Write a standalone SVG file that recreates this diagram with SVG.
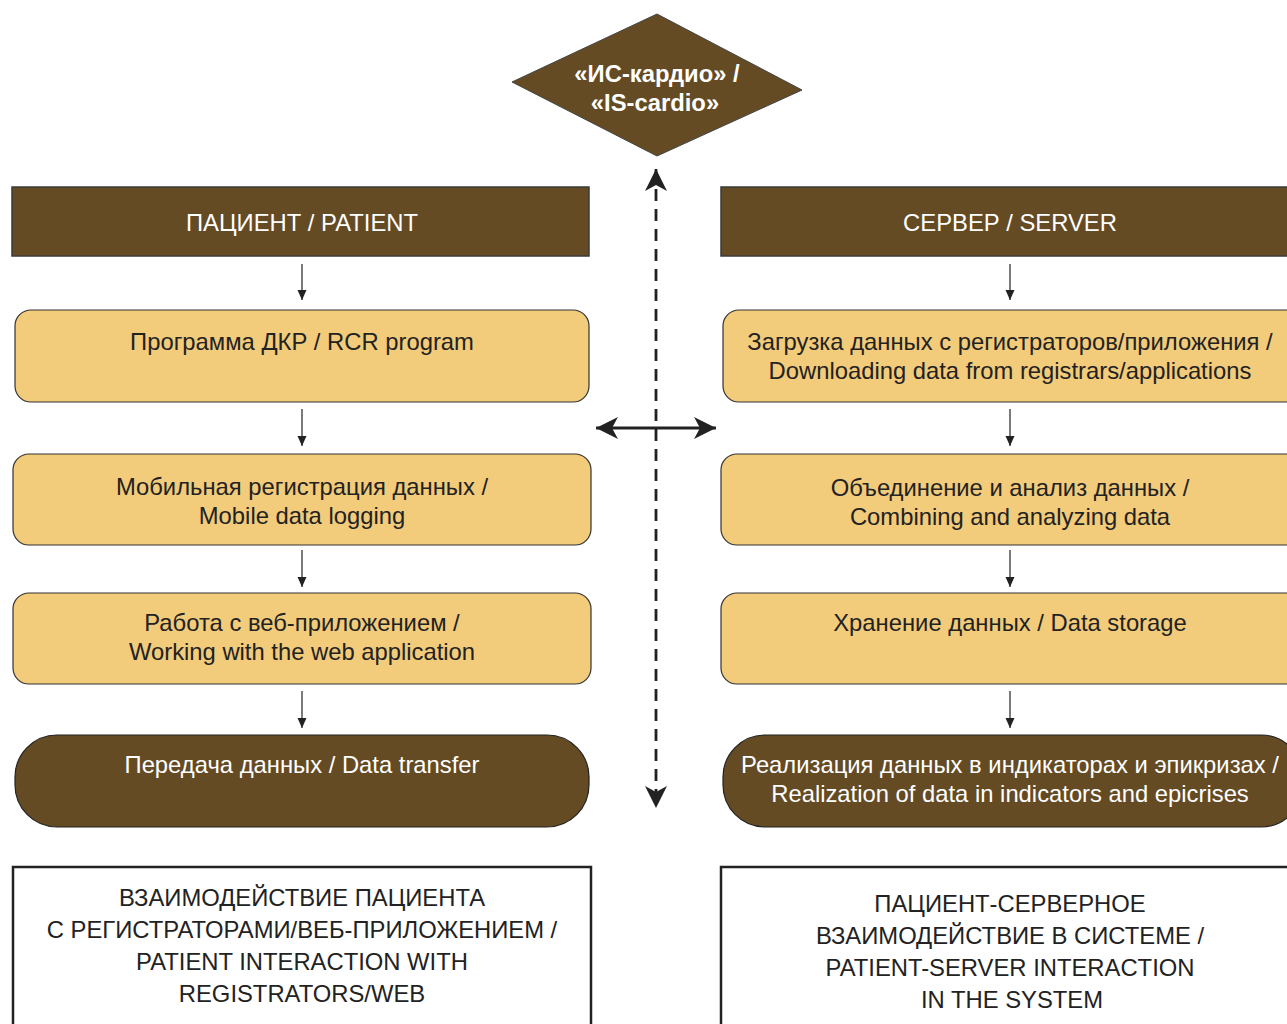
<svg xmlns="http://www.w3.org/2000/svg" width="1287" height="1024" viewBox="0 0 1287 1024">
<style>
  text { font-family: "Liberation Sans", Arial, sans-serif; font-size: 23.8px; text-anchor: middle; }
  .hdr { fill: #644B24; stroke: #3a3a3a; stroke-width: 1.5; }
  .yel { fill: #F2CB7B; stroke: #333; stroke-width: 1.2; }
  .brn { fill: #644B24; stroke: #222; stroke-width: 1.2; }
  .box { fill: #fff; stroke: #222; stroke-width: 2.5; }
  .wt { fill: #fff; }
  .bk { fill: #222; }
  .flow { stroke: #333; stroke-width: 1.3; fill: none; marker-end: url(#sm); }
  .big { stroke: #222; stroke-width: 2.8; fill: none; }
</style>
<defs>
  <marker id="sm" markerUnits="userSpaceOnUse" markerWidth="12" markerHeight="12" viewBox="-10 -6 12 12" refX="0" refY="0" orient="auto">
    <path d="M0,0 L-10,-4.5 L-10,4.5 z" fill="#222"/>
  </marker>
  <marker id="bg" markerUnits="userSpaceOnUse" markerWidth="26" markerHeight="26" viewBox="-24 -13 26 26" refX="0" refY="0" orient="auto-start-reverse">
    <path d="M0,0 L-22,-11 L-16,0 L-22,11 z" fill="#222"/>
  </marker>
</defs>

<g id="node-iscardio">
  <polygon points="657,14 802,90 657,156 512,82" fill="#644B24" stroke="#444" stroke-width="1"/>
  <text x="657" y="82" class="wt" font-weight="bold">«ИС-кардио» /</text>
  <text x="655" y="111" class="wt" font-weight="bold">«IS-cardio»</text>
</g>

<g id="node-patient">
  <rect x="12" y="187" width="577" height="69" class="hdr"/>
  <text x="302" y="231" class="wt">ПАЦИЕНТ / PATIENT</text>
</g>
<g id="node-server">
  <rect x="721" y="187" width="580" height="69" class="hdr"/>
  <text x="1010" y="231" class="wt">СЕРВЕР / SERVER</text>
</g>

<g id="node-rcr">
  <rect x="15" y="310" width="574" height="92" rx="16" class="yel"/>
  <text x="302" y="350" class="bk">Программа ДКР / RCR program</text>
</g>
<g id="node-mobile">
  <rect x="13" y="454" width="578" height="91" rx="16" class="yel"/>
  <text x="302" y="495" class="bk">Мобильная регистрация данных /</text>
  <text x="302" y="524" class="bk">Mobile data logging</text>
</g>
<g id="node-web">
  <rect x="13" y="593" width="578" height="91" rx="16" class="yel"/>
  <text x="302" y="631" class="bk">Работа с веб-приложением /</text>
  <text x="302" y="660" class="bk">Working with the web application</text>
</g>
<g id="node-transfer">
  <rect x="15" y="735" width="574" height="92" rx="42" class="brn"/>
  <text x="302" y="773" class="wt">Передача данных / Data transfer</text>
</g>

<g id="node-download">
  <rect x="723" y="310" width="580" height="92" rx="16" class="yel"/>
  <text x="1010" y="350" class="bk">Загрузка данных с регистраторов/приложения /</text>
  <text x="1010" y="379" class="bk">Downloading data from registrars/applications</text>
</g>
<g id="node-combine">
  <rect x="721" y="454" width="582" height="91" rx="16" class="yel"/>
  <text x="1010" y="496" class="bk">Объединение и анализ данных /</text>
  <text x="1010" y="525" class="bk">Combining and analyzing data</text>
</g>
<g id="node-storage">
  <rect x="721" y="593" width="582" height="91" rx="16" class="yel"/>
  <text x="1010" y="631" class="bk">Хранение данных / Data storage</text>
</g>
<g id="node-realization">
  <rect x="723" y="735" width="580" height="92" rx="42" class="brn"/>
  <text x="1010" y="773" class="wt">Реализация данных в индикаторах и эпикризах /</text>
  <text x="1010" y="802" class="wt">Realization of data in indicators and epicrises</text>
</g>

<g id="node-summary-left">
  <rect x="13" y="867" width="578" height="170" class="box"/>
  <text x="302" y="906" class="bk">ВЗАИМОДЕЙСТВИЕ ПАЦИЕНТА</text>
  <text x="302" y="938" class="bk">С РЕГИСТРАТОРАМИ/ВЕБ-ПРИЛОЖЕНИЕМ /</text>
  <text x="302" y="970" class="bk">PATIENT INTERACTION WITH</text>
  <text x="302" y="1002" class="bk">REGISTRATORS/WEB</text>
</g>
<g id="node-summary-right">
  <rect x="721" y="867" width="580" height="170" class="box"/>
  <text x="1010" y="912" class="bk">ПАЦИЕНТ-СЕРВЕРНОЕ</text>
  <text x="1010" y="944" class="bk">ВЗАИМОДЕЙСТВИЕ В СИСТЕМЕ /</text>
  <text x="1010" y="976" class="bk">PATIENT-SERVER INTERACTION</text>
  <text x="1012" y="1008" class="bk">IN THE SYSTEM</text>
</g>

<g id="connectors">
  <line x1="302" y1="264" x2="302" y2="300" class="flow"/>
  <line x1="302" y1="409" x2="302" y2="446" class="flow"/>
  <line x1="302" y1="550" x2="302" y2="587" class="flow"/>
  <line x1="302" y1="691" x2="302" y2="728" class="flow"/>
  <line x1="1010" y1="264" x2="1010" y2="300" class="flow"/>
  <line x1="1010" y1="409" x2="1010" y2="446" class="flow"/>
  <line x1="1010" y1="550" x2="1010" y2="587" class="flow"/>
  <line x1="1010" y1="691" x2="1010" y2="728" class="flow"/>
  <line x1="656" y1="169" x2="656" y2="808" class="big" stroke-dasharray="12 8" marker-start="url(#bg)" marker-end="url(#bg)"/>
  <line x1="596" y1="428" x2="716" y2="428" class="big" marker-start="url(#bg)" marker-end="url(#bg)"/>
</g>
</svg>
